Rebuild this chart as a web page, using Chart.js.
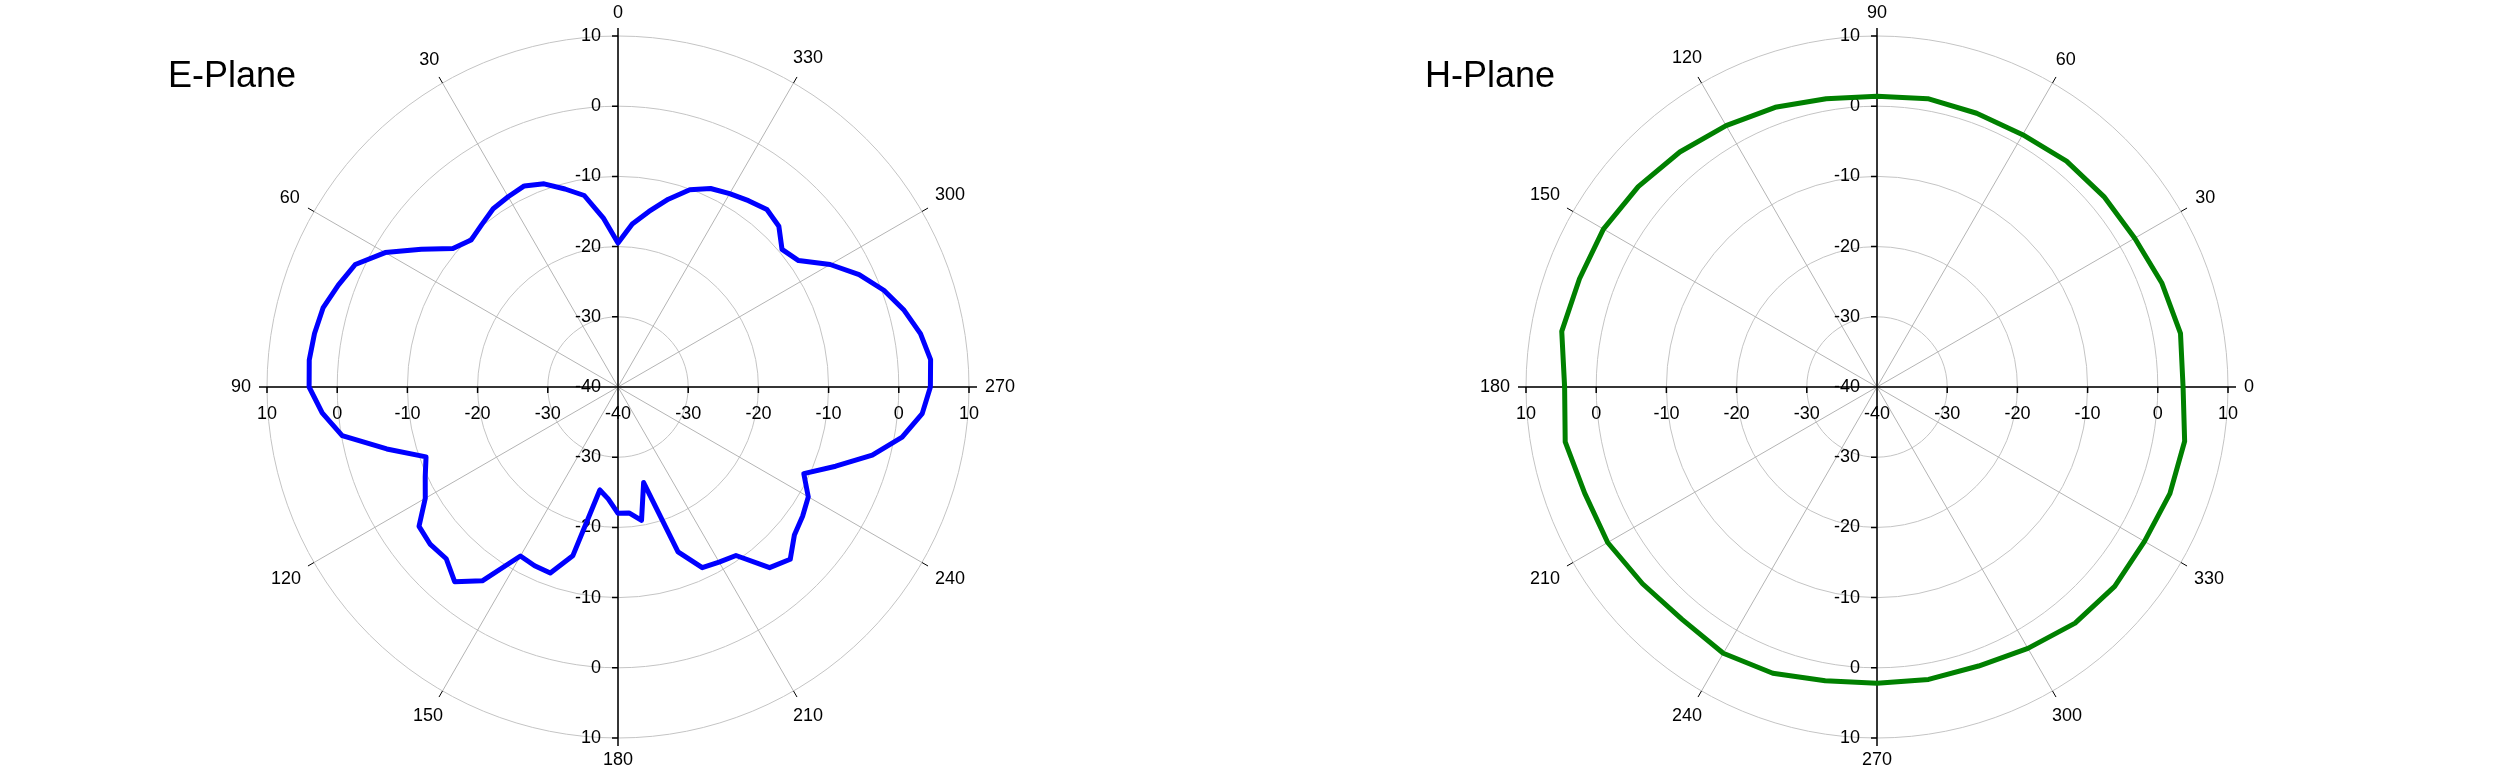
<!DOCTYPE html>
<html>
<head>
<meta charset="utf-8">
<script src="https://cdn.jsdelivr.net/npm/chart.js@4/dist/chart.umd.min.js"></script>
<style>
  html, body { margin: 0; padding: 0; background: #fff; }
  body { width: 2500px; height: 775px; position: relative; overflow: hidden; }
  canvas { position: absolute; top: 0; }
  #ePlane { left: 0; }
  #hPlane { left: 1257px; }
</style>
</head>
<body>
<canvas id="ePlane" width="1237" height="775"></canvas>
<canvas id="hPlane" width="1240" height="775"></canvas>
<script>
const FONT = '"Liberation Sans", Arial, sans-serif';

// E-plane, 5 degree steps, counter-clockwise from the top
const eAngles = [0, 5, 10, 15, 20, 25, 30, 35, 40, 45, 50, 55, 60, 65, 70, 75, 80, 85,
  90, 95, 100, 105, 110, 115, 120, 125, 130, 135, 140, 145, 150, 155, 160, 165, 170, 175,
  180, 185, 190, 195, 200, 205, 210, 215, 220, 225, 230, 235, 240, 245, 250, 255, 260, 265,
  270, 275, 280, 285, 290, 295, 300, 305, 310, 315, 320, 325, 330, 335, 340, 345, 350, 355];
const eValues = [-19.5, -15.8, -12.3, -10.8, -9.2, -8.4, -8.7, -9.0, -9.8, -10.4, -9.3, -5.8,
  -1.7, 1.3, 2.4, 3.5, 3.9, 4.15, 4.0, 2.3, -0.1, -5.9, -10.9, -9.7,
  -8.3, -5.4, -5.1, -5.4, -3.8, -6.3, -12.2, -11.9, -11.8, -15.1, -25.1, -24.0,
  -22.0, -22.0, -20.7, -25.9, -15.0, -11.6, -11.2, -10.7, -6.4, -5.3, -7.2, -7.9,
  -8.7, -10.8, -7.0, -2.5, 1.1, 3.5, 4.5, 4.7, 3.75, 2.2, 0.3, -2.1,
  -5.1, -8.6, -9.5, -7.6, -7.0, -7.6, -8.2, -8.8, -10.1, -12.3, -14.6, -16.7];

// H-plane, 10 degree steps, counter-clockwise from the right
const hAngles = [0, 10, 20, 30, 40, 50, 60, 70, 80, 90, 100, 110, 120, 130, 140, 150, 160, 170,
  180, 190, 200, 210, 220, 230, 240, 250, 260, 270, 280, 290, 300, 310, 320, 330, 340, 350];
const hValues = [3.6, 3.9, 3.2, 2.4, 2.2, 2.0, 1.5, 1.5, 1.7, 1.4, 1.7, 2.4, 3.0, 3.7, 4.4, 5.0, 5.1, 5.6,
  4.5, 5.1, 4.3, 4.3, 3.6, 3.2, 3.8, 3.4, 2.5, 2.2, 2.3, 2.3, 3.0, 3.9, 4.2, 4.0, 4.4, 4.5];

const radialTicks = [-40, -30, -20, -10, 0, 10];

Chart.defaults.font.family = FONT;

// radar runs clockwise, the plots run counter-clockwise
const clockwise = (arr) => [arr[0], ...arr.slice(1).reverse()];
const isSpoke = (a) => a % 30 === 0;

// black axes through the centre, dB labels, angle labels and the title
const crossAxes = {
  id: "crossAxes",
  beforeDatasetsDraw(chart, args, opts) {
    const s = chart.scales.r;
    const ctx = chart.ctx;
    const cx = s.xCenter, cy = s.yCenter, R = s.drawingArea;
    const labels = chart.data.labels;
    ctx.save();
    ctx.strokeStyle = "#000";
    ctx.fillStyle = "#000";
    ctx.lineWidth = 1;
    ctx.beginPath();
    labels.forEach((a, i) => {
      if (!isSpoke(a) || a % 90 === 0) return;
      const p1 = s.getPointPosition(i, R);
      const p2 = s.getPointPosition(i, R + 7);
      ctx.moveTo(p1.x, p1.y);
      ctx.lineTo(p2.x, p2.y);
    });
    ctx.stroke();

    ctx.lineWidth = 1.5;
    ctx.beginPath();
    ctx.moveTo(cx - R - 8, cy);
    ctx.lineTo(cx + R + 8, cy);
    ctx.moveTo(cx, cy - R - 8);
    ctx.lineTo(cx, cy + R + 8);
    s.ticks.forEach((t) => {
      const d = s.getDistanceFromCenterForValue(t.value);
      [-d, d].forEach((o) => {
        ctx.moveTo(cx + o, cy);
        ctx.lineTo(cx + o, cy + 6);
        ctx.moveTo(cx, cy + o);
        ctx.lineTo(cx - 6, cy + o);
      });
    });
    ctx.stroke();

    ctx.font = "18px " + FONT;
    ctx.textBaseline = "middle";
    s.ticks.forEach((t) => {
      const d = s.getDistanceFromCenterForValue(t.value);
      const offs = d === 0 ? [0] : [-d, d];
      offs.forEach((o) => {
        ctx.textAlign = "center";
        ctx.fillText(String(t.value), cx + o, cy + 27);
        ctx.textAlign = "right";
        ctx.fillText(String(t.value), cx - 17, cy + o);
      });
    });

    // angle labels sit just outside the ring, a gap away from their nearest edge
    ctx.textAlign = "center";
    labels.forEach((a, i) => {
      if (!isSpoke(a)) return;
      const text = String(a);
      const hw = ctx.measureText(text).width / 2;
      const u = s.getPointPosition(i, 1);
      const ux = Math.abs(u.x - cx), uy = Math.abs(u.y - cy);
      const p = s.getPointPosition(i, R + 16 + ux * hw + uy * 6.5);
      ctx.fillText(text, p.x, p.y);
    });

    ctx.textAlign = "left";
    ctx.textBaseline = "alphabetic";
    ctx.font = "36px " + FONT;
    ctx.fillText(opts.title, 168, 87);
    ctx.restore();
  },
};

function polarChart(id, title, angles, values, color, startAngle) {
  const labels = clockwise(angles);
  return new Chart(document.getElementById(id), {
    type: "radar",
    data: {
      labels,
      datasets: [
        {
          data: clockwise(values),
          borderColor: color,
          borderWidth: 5,
          borderJoinStyle: "round",
          fill: false,
          pointRadius: 0,
          pointHoverRadius: 0,
          tension: 0,
        },
      ],
    },
    options: {
      responsive: false,
      animation: false,
      events: [],
      layout: { padding: { top: 36, bottom: 36 } },
      plugins: {
        legend: { display: false },
        tooltip: { enabled: false },
        crossAxes: { title },
      },
      scales: {
        r: {
          min: radialTicks[0],
          max: radialTicks[radialTicks.length - 1],
          startAngle,
          ticks: { display: false, stepSize: 10 },
          grid: { circular: true, color: "#c4c4c4", lineWidth: 1 },
          angleLines: {
            color: (c) => (isSpoke(labels[c.index]) ? "#b4b4b4" : "rgba(0,0,0,0)"),
            lineWidth: 1,
          },
          pointLabels: { display: false },
        },
      },
    },
    plugins: [crossAxes],
  });
}

polarChart("ePlane", "E-Plane", eAngles, eValues, "#0000ff", 0);
polarChart("hPlane", "H-Plane", hAngles, hValues, "#008000", 90);
</script>
</body>
</html>
